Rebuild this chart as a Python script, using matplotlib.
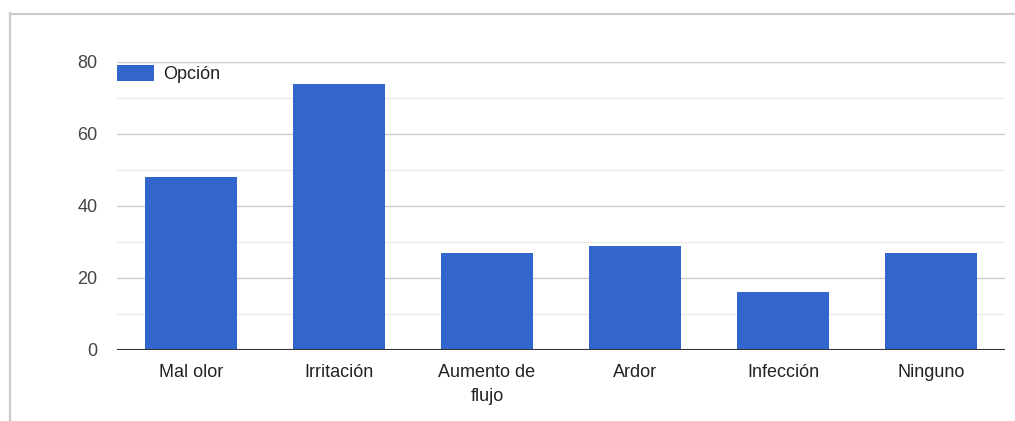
import matplotlib
matplotlib.use("Agg")
import matplotlib.pyplot as plt
from matplotlib.lines import Line2D
from matplotlib.ticker import MultipleLocator

categories = ["Mal olor", "Irritación", "Aumento de\nflujo", "Ardor", "Infección", "Ninguno"]
values = [48, 74, 27, 29, 16, 27]
series_name = "Opción"
y_ticks = [0, 20, 40, 60, 80]

W, H = 1015, 421
plt.rcParams["font.family"] = ["Liberation Sans", "DejaVu Sans"]

fig = plt.figure(figsize=(W / 100, H / 100), dpi=100)
fig.patch.set_facecolor("white")

# frame lines along the top and left edges
fig.add_artist(Line2D([9.5 / W, 9.5 / W], [0, 1 - 12.5 / H], transform=fig.transFigure,
                      color="#cccccc", lw=1.6))
fig.add_artist(Line2D([9.5 / W, 1], [1 - 13.5 / H, 1 - 13.5 / H], transform=fig.transFigure,
                      color="#cccccc", lw=1.6))

left, right = 117 / W, 1005 / W
bottom, top = (H - 350) / H, (H - 62) / H
ax = fig.add_axes([left, bottom, right - left, top - bottom])

x = range(len(categories))
ax.bar(x, values, width=0.617, color="#3366cc", label=series_name, zorder=3)

ax.set_xlim(-0.5, len(categories) - 0.5)
ax.set_ylim(0, 80)
ax.set_yticks(y_ticks)
ax.yaxis.set_minor_locator(MultipleLocator(10))
ax.grid(axis="y", which="major", color="#cccccc", lw=1.0, zorder=0)
ax.grid(axis="y", which="minor", color="#ebebeb", lw=1.0, zorder=0)
ax.axhline(0, color="#333333", lw=1.5, zorder=4)

for s in ax.spines.values():
    s.set_visible(False)

ax.set_xticks(list(x))
ax.set_xticklabels(categories, fontsize=13, color="#222222", linespacing=1.55, va="top")
ax.tick_params(axis="x", length=0, pad=10)
ax.tick_params(axis="y", which="both", length=0, pad=14, labelsize=13, labelcolor="#444444")

ax_h_px = 350 - 62
leg = ax.legend(loc="upper left", bbox_to_anchor=(0, 1 - 3.5 / ax_h_px), frameon=False,
                fontsize=13, handlelength=2.05, handleheight=0.95, borderaxespad=0.0,
                borderpad=0.0, handletextpad=0.5, labelcolor="#222222")

fig.savefig("out.png", dpi=100, facecolor="white")
